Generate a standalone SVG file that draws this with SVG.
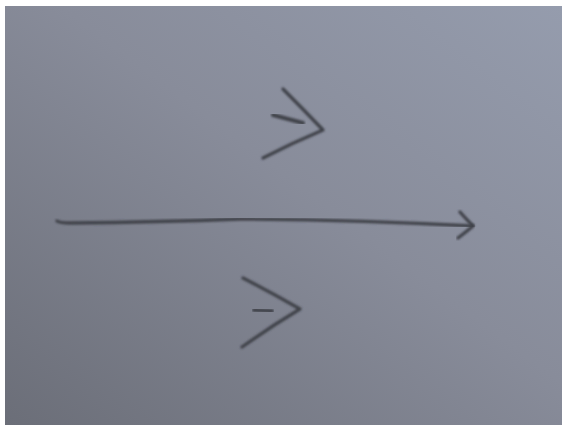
<svg xmlns="http://www.w3.org/2000/svg" width="567" height="430" viewBox="0 0 567 430">
  <defs>
    <linearGradient id="paper" x1="1" y1="0" x2="0" y2="1">
      <stop offset="0" stop-color="#959cad"/>
      <stop offset="0.45" stop-color="#888c9a"/>
      <stop offset="1" stop-color="#6b6e78"/>
    </linearGradient>
    <filter id="soft" x="-10%" y="-10%" width="120%" height="120%">
      <feGaussianBlur stdDeviation="0.9"/>
    </filter>
  </defs>
  <style>
    .pen { fill: none; stroke: #40424a; stroke-width: 3.3; stroke-linecap: round; stroke-linejoin: round; filter: url(#soft); }
    .dash { stroke-width: 4; }
  </style>
  <rect width="567" height="430" fill="#ffffff"/>
  <rect x="5" y="6" width="557" height="419" fill="url(#paper)"/>
  <g id="top-mark">
    <path class="pen" d="M283,89 Q303,109 323,130 Q292,143 263,158"/>
    <path class="pen dash" d="M273,115 Q288,119 303,123"/>
  </g>
  <g id="bottom-mark">
    <path class="pen" d="M243,278 Q272,293 300,309 Q270,327 242,347"/>
    <path class="pen dash" d="M254,310 L272,311"/>
  </g>
  <g id="connectors">
    <path class="pen" d="M57,221 Q60,223 70,223 Q160,222 240,219 Q360,220 473,226"/>
    <path class="pen" d="M460,212 Q467,220 473,226 Q466,232 458,238"/>
  </g>
</svg>
